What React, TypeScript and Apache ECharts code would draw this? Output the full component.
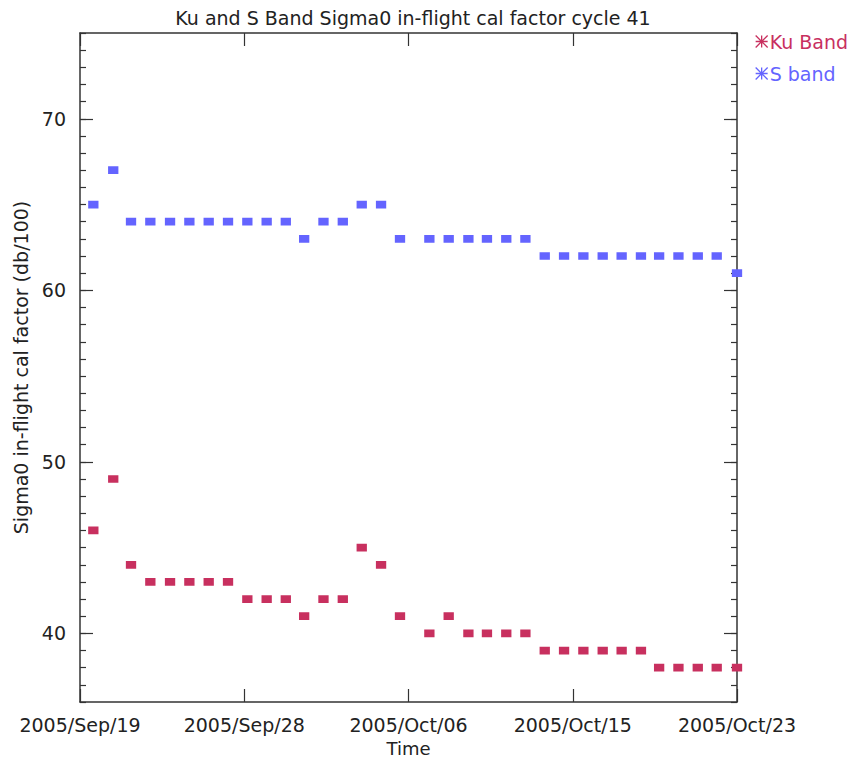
import React, { useEffect, useRef } from "react";
import * as echarts from "echarts";

// Measurement times, in days since 2005/Sep/19 00:00
const timeDays = [
  0.69, 1.72, 2.64, 3.64, 4.66, 5.66, 6.66, 7.66, 8.66, 9.66, 10.65, 11.6,
  12.6, 13.6, 14.58, 15.58, 16.56, 18.08, 19.08, 20.1, 21.06, 22.06, 23.05,
  24.05, 25.05, 26.05, 27.05, 28.03, 29.03, 29.97, 30.97, 31.97, 32.95, 34.0,
];

// Cal factors (db/100)
const kuBand = [
  46, 49, 44, 43, 43, 43, 43, 43, 42, 42, 42, 41, 42, 42, 45, 44, 41, 40, 41,
  40, 40, 40, 40, 39, 39, 39, 39, 39, 39, 38, 38, 38, 38, 38,
];
const sBand = [
  65, 67, 64, 64, 64, 64, 64, 64, 64, 64, 64, 63, 64, 64, 65, 65, 63, 63, 63,
  63, 63, 63, 63, 62, 62, 62, 62, 62, 62, 62, 62, 62, 62, 61,
];

const xTickLabels = [
  "2005/Sep/19",
  "2005/Sep/28",
  "2005/Oct/06",
  "2005/Oct/15",
  "2005/Oct/23",
];
const yMajorTicks = [40, 50, 60, 70];

const KU_COLOR = "#c8305f";
const S_COLOR = "#6464ff";
const INK = "#222";
const FONT = "DejaVu Sans";

const STAR = "path://M0,0L10,10M10,0L0,10M5,0L5,10M0,5L10,5";

export default function App() {
  const ref = useRef<HTMLDivElement>(null);

  useEffect(() => {
    if (!ref.current) return;
    const chart = echarts.init(ref.current, undefined, { renderer: "svg" });

    const axisLine = { show: true, lineStyle: { color: "#333", width: 1.5 } };
    const tickLine = { color: "#333", width: 1.2 };
    const yBase = { type: "value" as const, min: 36, max: 75, splitLine: { show: false } };

    chart.setOption({
      animation: false,
      backgroundColor: "#fff",
      title: {
        text: "Ku and S Band Sigma0 in-flight cal factor cycle 41",
        left: 408,
        textAlign: "center",
        top: 3,
        textStyle: { fontFamily: FONT, fontSize: 19, fontWeight: "normal", color: INK },
      },
      legend: {
        orient: "vertical",
        left: 750,
        top: 27,
        itemWidth: 12,
        itemHeight: 12,
        itemGap: 13,
        icon: STAR,
        itemStyle: { borderWidth: 1.3, opacity: 1 },
        textStyle: { fontFamily: FONT, fontSize: 19, padding: [0, 0, 0, -3] },
        data: [
          { name: "Ku Band", textStyle: { color: KU_COLOR } },
          { name: "S band", textStyle: { color: S_COLOR } },
        ],
      },
      grid: { left: 80, top: 33, right: 119, bottom: 58, outerBoundsMode: "none" },
      xAxis: [
        {
          type: "value",
          position: "bottom",
          min: 0,
          max: 34,
          interval: 8.5,
          axisLine,
          axisTick: { show: true, inside: true, length: 13, lineStyle: tickLine },
          axisLabel: {
            fontFamily: FONT,
            fontSize: 19,
            color: INK,
            margin: 13,
            formatter: (v: number) => xTickLabels[Math.round(v / 8.5)] ?? "",
          },
          splitLine: { show: false },
          name: "Time",
          nameLocation: "middle",
          nameGap: 37,
          nameTextStyle: { fontFamily: FONT, fontSize: 18, color: INK },
        },
        {
          type: "value",
          position: "top",
          min: 0,
          max: 34,
          interval: 8.5,
          axisLine,
          axisTick: { show: true, inside: true, length: 13, lineStyle: tickLine },
          axisLabel: { show: false },
          splitLine: { show: false },
        },
      ],
      yAxis: [
        {
          ...yBase,
          position: "left",
          axisLine,
          axisTick: {
            show: true,
            inside: true,
            length: 13,
            customValues: yMajorTicks,
            lineStyle: tickLine,
          },
          axisLabel: {
            fontFamily: FONT,
            fontSize: 19,
            color: INK,
            margin: 14,
            customValues: yMajorTicks,
          },
          name: "Sigma0 in-flight cal factor (db/100)",
          nameLocation: "middle",
          nameGap: 44,
          nameTextStyle: { fontFamily: FONT, fontSize: 19, color: INK },
        },
        {
          ...yBase,
          position: "left",
          interval: 1,
          axisLine: { show: false },
          axisTick: { show: true, inside: true, length: 6, lineStyle: tickLine },
          axisLabel: { show: false },
        },
        {
          ...yBase,
          position: "right",
          axisLine,
          axisTick: {
            show: true,
            inside: true,
            length: 13,
            customValues: yMajorTicks,
            lineStyle: tickLine,
          },
          axisLabel: { show: false },
        },
        {
          ...yBase,
          position: "right",
          interval: 1,
          axisLine: { show: false },
          axisTick: { show: true, inside: true, length: 6, lineStyle: tickLine },
          axisLabel: { show: false },
        },
      ],
      series: [
        {
          name: "Ku Band",
          type: "scatter",
          xAxisIndex: 0,
          yAxisIndex: 0,
          symbol: "rect",
          symbolSize: [8, 6],
          itemStyle: { color: KU_COLOR, borderColor: KU_COLOR, borderWidth: 2, opacity: 1 },
          data: timeDays.map((t, i) => [t, kuBand[i]]),
        },
        {
          name: "S band",
          type: "scatter",
          xAxisIndex: 0,
          yAxisIndex: 0,
          symbol: "rect",
          symbolSize: [8, 6],
          itemStyle: { color: S_COLOR, borderColor: S_COLOR, borderWidth: 2, opacity: 1 },
          data: timeDays.map((t, i) => [t, sBand[i]]),
        },
      ],
    });

    return () => chart.dispose();
  }, []);

  return (
    <div
      ref={ref}
      style={{ position: "fixed", left: 0, top: 0, width: 856, height: 760, background: "#fff" }}
    />
  );
}
